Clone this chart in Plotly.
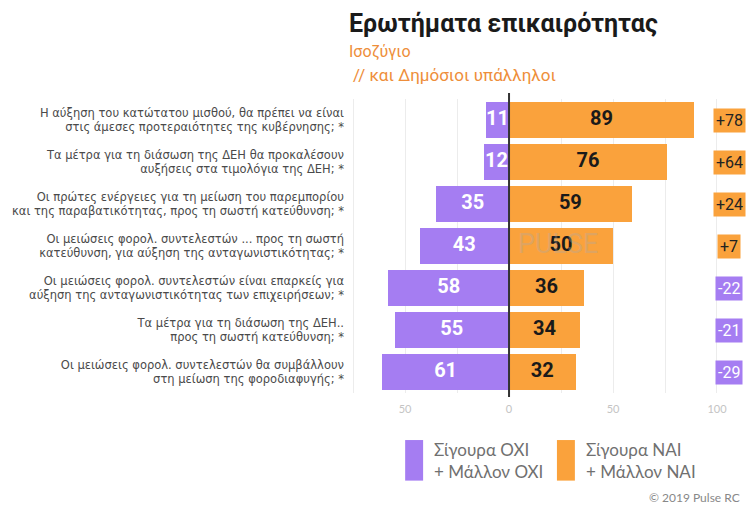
import plotly.graph_objects as go

# Survey questions (top to bottom) and shares in %
questions = [
    "Η αύξηση του κατώτατου μισθού, θα πρέπει να είναι<br>στις άμεσες προτεραιότητες της κυβέρνησης; *",
    "Τα μέτρα για τη διάσωση της ΔΕΗ θα προκαλέσουν<br>αυξήσεις στα τιμολόγια της ΔΕΗ; *",
    "Οι πρώτες ενέργειες για τη μείωση του παρεμπορίου<br>και της παραβατικότητας, προς τη σωστή κατεύθυνση; *",
    "Οι μειώσεις φορολ. συντελεστών ... προς τη σωστή<br>κατεύθυνση, για αύξηση της ανταγωνιστικότητας; *",
    "Οι μειώσεις φορολ. συντελεστών είναι επαρκείς για<br>αύξηση της ανταγωνιστικότητας των επιχειρήσεων; *",
    "Τα μέτρα για τη διάσωση της ΔΕΗ..<br>προς τη σωστή κατεύθυνση; *",
    "Οι μειώσεις φορολ. συντελεστών θα συμβάλλουν<br>στη μείωση της φοροδιαφυγής; *",
]
no_share = [11, 12, 35, 43, 58, 55, 61]
yes_share = [89, 76, 59, 50, 36, 34, 32]

tick_vals = [-75, -50, -25, 0, 25, 50, 75, 100]
tick_text = ["", "50", "", "0", "", "50", "", "100"]

PURPLE = "#A57DF2"
ORANGE = "#FAA23C"
rows = list(range(len(questions)))

fig = go.Figure()
fig.add_trace(go.Bar(
    y=rows, x=[-v for v in no_share], orientation="h",
    marker=dict(color=PURPLE, line_width=0), width=0.88,
    hoverinfo="skip", showlegend=False,
))
fig.add_trace(go.Bar(
    y=rows, x=yes_share, orientation="h",
    marker=dict(color=ORANGE, line_width=0), width=0.88,
    hoverinfo="skip", showlegend=False,
))
# value labels centred in each bar
fig.add_trace(go.Scatter(
    y=rows, x=[-v / 2 for v in no_share], mode="text",
    text=[str(v) for v in no_share],
    textfont=dict(family="Roboto", size=20, color="white", weight="bold"),
    hoverinfo="skip", showlegend=False,
))
fig.add_trace(go.Scatter(
    y=rows, x=[v / 2 for v in yes_share], mode="text",
    text=[str(v) for v in yes_share],
    textfont=dict(family="Roboto", size=20, color="#1a1a1a", weight="bold"),
    hoverinfo="skip", showlegend=False,
))

annotations = []
# net balance badges on the right
for r, n, y in zip(rows, no_share, yes_share):
    d = y - n
    annotations.append(dict(
        x=106, y=r, xref="x", yref="y", text=f"{d:+d}", showarrow=False,
        font=dict(family="Roboto", size=16, color="#222" if d > 0 else "white"),
        bgcolor=ORANGE if d > 0 else PURPLE, borderpad=2,
    ))

# watermark
annotations.append(dict(
    x=23.5, y=3, xref="x", yref="y", yshift=2, text="PULSE", showarrow=False,
    font=dict(family="Roboto", size=27, color="rgba(170,170,170,0.35)"),
))

# title block
annotations += [
    dict(x=0.002, y=1.258, xref="paper", yref="paper", xanchor="left", yanchor="middle",
         text="<b>Ερωτήματα επικαιρότητας</b>", showarrow=False,
         font=dict(family="Roboto", size=25, color="#1a1a1a")),
    dict(x=0.002, y=1.163, xref="paper", yref="paper", xanchor="left", yanchor="middle",
         text="Ισοζύγιο", showarrow=False,
         font=dict(family="Roboto", size=16, color="#EE8E3A")),
    dict(x=0.012, y=1.083, xref="paper", yref="paper", xanchor="left", yanchor="middle",
         text="// και Δημόσιοι υπάλληλοι", showarrow=False,
         font=dict(family="Roboto", size=17, color="#EE8E3A")),
]

# legend
legend_items = [
    (PURPLE, "Σίγουρα ΟΧΙ<br>+ Μάλλον ΟΧΙ", 0.145),
    (ORANGE, "Σίγουρα ΝΑΙ<br>+ Μάλλον ΝΑΙ", 0.517),
]
shapes = []
for color, label, x0 in legend_items:
    shapes.append(dict(type="rect", xref="paper", yref="paper",
                       x0=x0, x1=x0 + 0.044, y0=-0.298, y1=-0.16,
                       fillcolor=color, line_width=0))
    annotations.append(dict(
        x=x0 + 0.066, y=-0.229, xref="paper", yref="paper", xanchor="left",
        yanchor="middle", align="left", text=label, showarrow=False,
        font=dict(family="Lato", size=17, color="#707070"),
    ))

annotations.append(dict(
    x=0.97, y=-0.355, xref="paper", yref="paper", xanchor="right", yanchor="middle",
    text="© 2019 Pulse RC", showarrow=False,
    font=dict(family="Lato", size=12, color="#888"),
))

# zero line drawn over the bars
shapes.append(dict(type="line", xref="x", yref="paper", x0=0, x1=0,
                   y0=-0.014, y1=1.02, line=dict(color="#333", width=2), layer="above"))

fig.update_layout(
    width=754, height=508,
    margin=dict(l=346, r=0, t=99, b=115),
    paper_bgcolor="white", plot_bgcolor="white",
    barmode="relative", bargap=0,
    annotations=annotations, shapes=shapes,
    font=dict(family="DejaVu Sans"),
    xaxis=dict(
        range=[-78.4, 117.8], tickvals=tick_vals, ticktext=tick_text,
        showgrid=True, gridcolor="#ececec", gridwidth=1, zeroline=False,
        tickfont=dict(family="Lato", size=11, color="#c4c4c4"),
        ticklabelstandoff=8, fixedrange=True,
    ),
    yaxis=dict(
        range=[6.5, -0.5], tickvals=rows, ticktext=questions,
        showgrid=False, zeroline=False, automargin=False,
        tickfont=dict(family="DejaVu Sans", size=11.5, color="#4a4a4a"),
        ticklabelstandoff=1, fixedrange=True,
    ),
)

fig.write_html("out.html")
